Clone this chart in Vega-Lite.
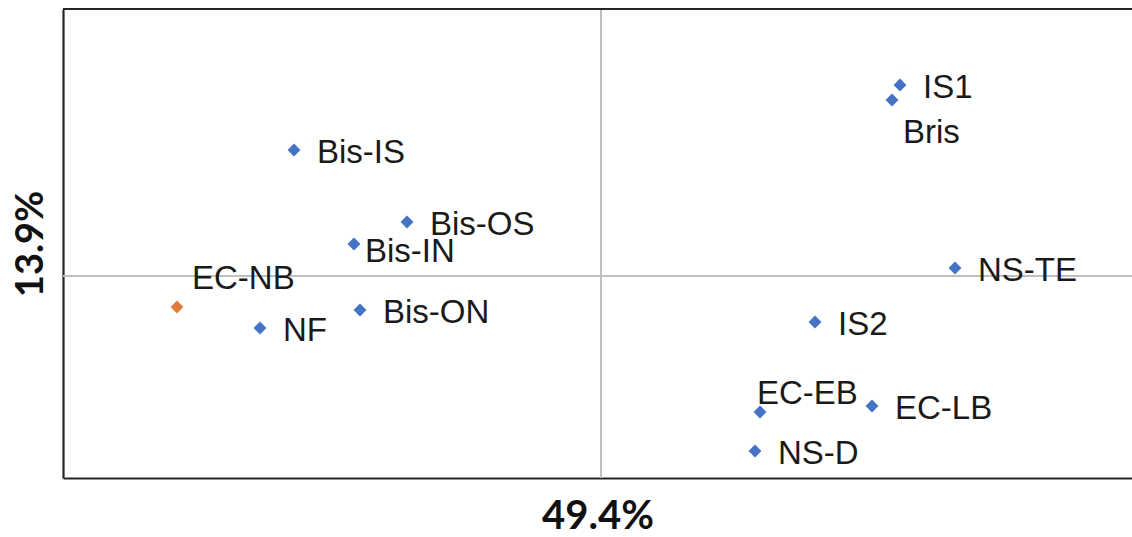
{
  "$schema": "https://vega.github.io/schema/vega-lite/v6.json",
  "width": 1069,
  "height": 469,
  "autosize": "none",
  "padding": {"left": 63, "top": 9, "right": 0, "bottom": 59},
  "background": "white",
  "config": {"view": {"stroke": null}},
  "data": {"values": [
    {"name": "Bis-IS", "pc1": -3.07, "pc2": 1.26, "group": "other"},
    {"name": "Bis-OS", "pc1": -1.94, "pc2": 0.54, "group": "other"},
    {"name": "Bis-IN", "pc1": -2.47, "pc2": 0.32, "group": "other"},
    {"name": "Bis-ON", "pc1": -2.41, "pc2": -0.34, "group": "other"},
    {"name": "NF", "pc1": -3.41, "pc2": -0.52, "group": "other"},
    {"name": "EC-NB", "pc1": -4.24, "pc2": -0.31, "group": "EC-NB"},
    {"name": "IS1", "pc1": 2.99, "pc2": 1.91, "group": "other"},
    {"name": "Bris", "pc1": 2.91, "pc2": 1.76, "group": "other"},
    {"name": "NS-TE", "pc1": 3.54, "pc2": 0.08, "group": "other"},
    {"name": "IS2", "pc1": 2.14, "pc2": -0.46, "group": "other"},
    {"name": "EC-EB", "pc1": 1.59, "pc2": -1.36, "group": "other"},
    {"name": "EC-LB", "pc1": 2.71, "pc2": -1.30, "group": "other"},
    {"name": "NS-D", "pc1": 1.54, "pc2": -1.75, "group": "other"}
  ]},
  "encoding": {
    "x": {"field": "pc1", "type": "quantitative",
      "scale": {"domain": [-5.38, 5.31], "nice": false, "zero": false},
      "axis": {"title": "49.4%", "labels": false, "ticks": false, "grid": false,
        "domainColor": "#262626", "domainWidth": 2.2,
        "titleFont": "Lato", "titleFontSize": 40, "titleFontWeight": "bold", "titleColor": "#111111",
        "titlePadding": 18}},
    "y": {"field": "pc2", "type": "quantitative",
      "scale": {"domain": [-2.02, 2.67], "nice": false, "zero": false},
      "axis": {"title": "13.9%", "labels": false, "ticks": false, "grid": false,
        "domainColor": "#262626", "domainWidth": 2.2,
        "titleFont": "Lato", "titleFontSize": 38, "titleFontWeight": "bold", "titleColor": "#111111",
        "titlePadding": 13}}
  },
  "layer": [
    {"mark": {"type": "rule", "color": "#BFBFBF", "strokeWidth": 1.8},
     "encoding": {"x": {"datum": 0}, "y": null}},
    {"mark": {"type": "rule", "color": "#BFBFBF", "strokeWidth": 1.8},
     "encoding": {"y": {"datum": 0}, "x": null}},
    {"mark": {"type": "rule", "color": "#262626", "strokeWidth": 2.2},
     "encoding": {"y": {"datum": 2.67}, "x": null}},
    {"mark": {"type": "point", "shape": "diamond", "filled": true, "size": 165, "opacity": 1},
     "encoding": {"color": {"field": "group", "type": "nominal",
       "scale": {"domain": ["other", "EC-NB"], "range": ["#4472C4", "#E07B3E"]}, "legend": null}}},
    {"transform": [{"filter": {"not": {"field": "name", "oneOf": ["Bis-IN", "Bris", "EC-NB", "EC-EB"]}}}],
     "mark": {"type": "text", "align": "left", "baseline": "middle", "dx": 23, "dy": 3,
       "font": "Liberation Sans", "fontSize": 33, "color": "#1a1a1a"},
     "encoding": {"text": {"field": "name"}}},
    {"transform": [{"filter": {"field": "name", "equal": "Bis-IN"}}],
     "mark": {"type": "text", "align": "left", "baseline": "middle", "dx": 11, "dy": 8,
       "font": "Liberation Sans", "fontSize": 33, "color": "#1a1a1a"},
     "encoding": {"text": {"field": "name"}}},
    {"transform": [{"filter": {"field": "name", "equal": "Bris"}}],
     "mark": {"type": "text", "align": "left", "baseline": "middle", "dx": 11, "dy": 33,
       "font": "Liberation Sans", "fontSize": 33, "color": "#1a1a1a"},
     "encoding": {"text": {"field": "name"}}},
    {"transform": [{"filter": {"field": "name", "equal": "EC-NB"}}],
     "mark": {"type": "text", "align": "left", "baseline": "middle", "dx": 15, "dy": -28,
       "font": "Liberation Sans", "fontSize": 33, "color": "#1a1a1a"},
     "encoding": {"text": {"field": "name"}}},
    {"transform": [{"filter": {"field": "name", "equal": "EC-EB"}}],
     "mark": {"type": "text", "align": "left", "baseline": "middle", "dx": -3, "dy": -18,
       "font": "Liberation Sans", "fontSize": 33, "color": "#1a1a1a"},
     "encoding": {"text": {"field": "name"}}}
  ]
}
